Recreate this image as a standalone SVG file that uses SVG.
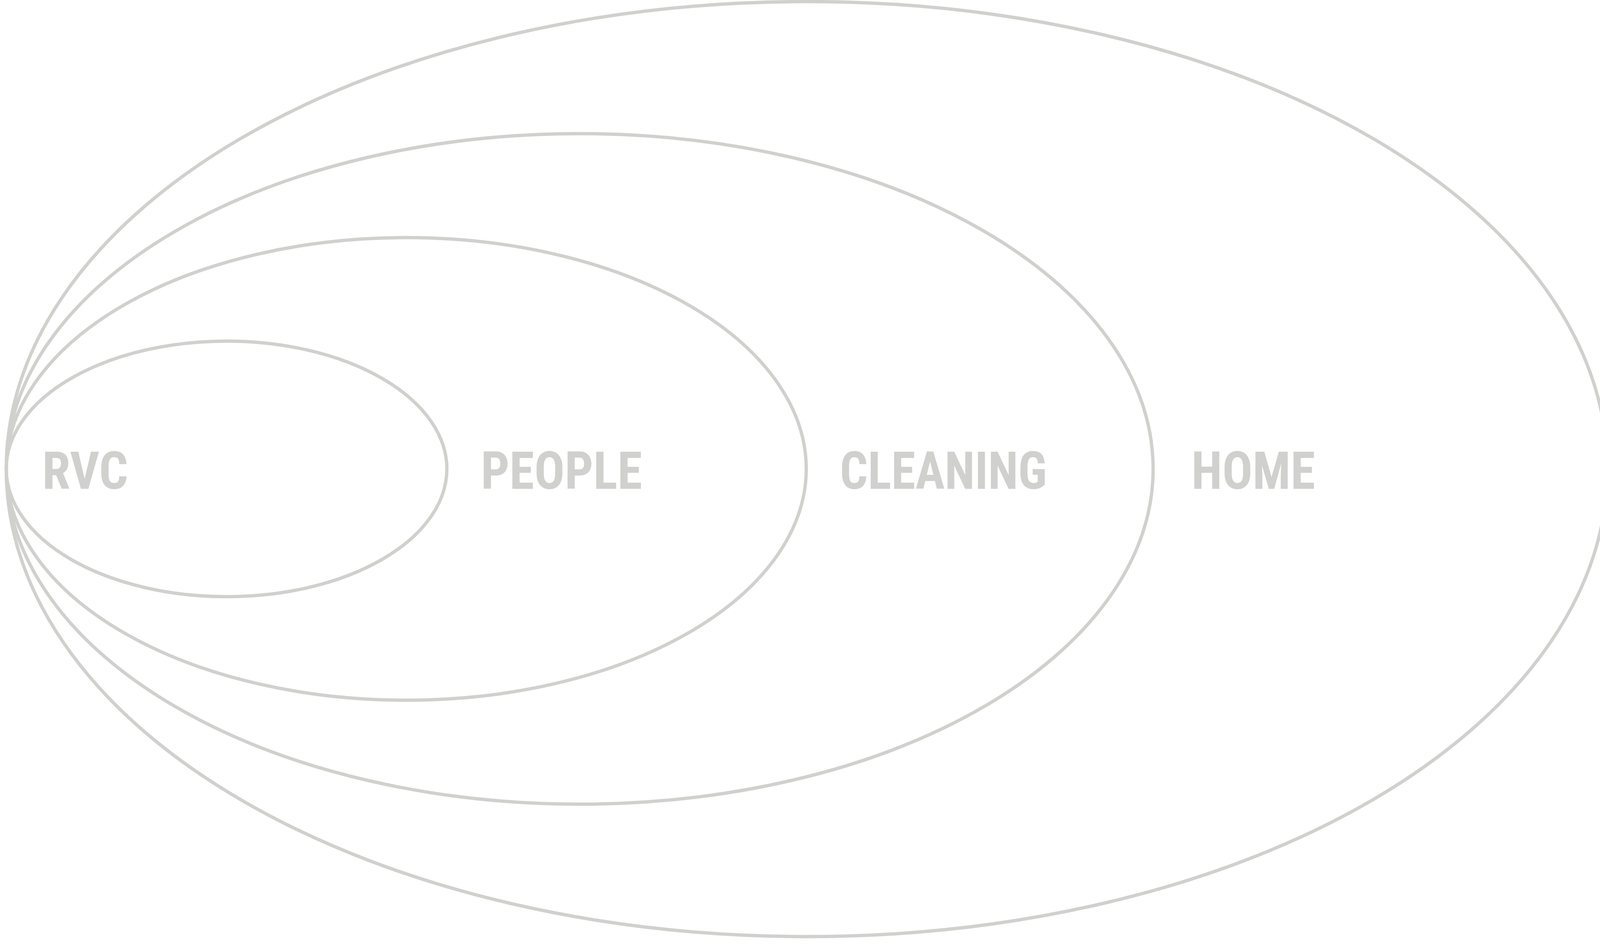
<svg xmlns="http://www.w3.org/2000/svg" width="4177" height="2421" viewBox="0 0 4177 2421">
  <style>
    .ring { fill: none; stroke: #d0d1ce; stroke-width: 8.5; }
    .label { fill: #d0d0cf; font-family: "Roboto Condensed", Roboto, "Liberation Sans", sans-serif; font-weight: 700; font-size: 134px; }
  </style>
  <rect x="0" y="0" width="4177" height="2421" fill="#ffffff"/>
  <g id="home">
    <ellipse class="ring" cx="2065.5" cy="1200.5" rx="2049.5" ry="1196.5"/>
    <text class="label" x="3050" y="1251" textLength="317" lengthAdjust="spacingAndGlyphs">HOME</text>
  </g>
  <g id="cleaning">
    <ellipse class="ring" cx="1484" cy="1200" rx="1468" ry="858"/>
    <text class="label" x="2150" y="1251" textLength="530" lengthAdjust="spacingAndGlyphs">CLEANING</text>
  </g>
  <g id="people">
    <ellipse class="ring" cx="1040" cy="1200" rx="1024" ry="592"/>
    <text class="label" x="1231" y="1251" textLength="413" lengthAdjust="spacingAndGlyphs">PEOPLE</text>
  </g>
  <g id="rvc">
    <ellipse class="ring" cx="580" cy="1200" rx="564" ry="327"/>
    <text class="label" x="108" y="1251" textLength="220" lengthAdjust="spacingAndGlyphs">RVC</text>
  </g>
  <g id="connectors"/>
</svg>
